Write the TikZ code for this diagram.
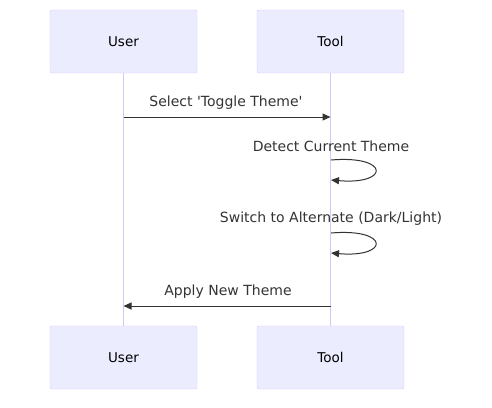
\documentclass[tikz,border=0pt]{standalone}
\usepackage{fontspec}
\setmainfont{DejaVu Sans}[Ligatures=TeXOff]
\usetikzlibrary{arrows.meta}
\definecolor{actfill}{HTML}{ECECFF}
\definecolor{actline}{HTML}{D6C8F4}
\definecolor{msg}{HTML}{333333}
\tikzset{
  actor/.style={draw=actline, fill=actfill, rounded corners=2pt, minimum width=147pt, minimum height=63pt, font=\fontsize{13.5}{15}\selectfont, inner sep=0pt},
  life/.style={draw=actline, line width=1.5pt},
  msgline/.style={draw=msg, line width=1pt, -{Triangle[length=8pt,width=7pt]}},
  msglabel/.style={font=\fontsize{14}{16}\selectfont, text=msg, inner sep=0pt}
}
\begin{document}
\begin{tikzpicture}[x=1pt,y=-1pt]
\useasboundingbox (0,0) rectangle (492,407);
\node[actor] (ut) at (123.5,41.5) {User};
\node[actor] (tt) at (330.5,41.5) {Tool};
\node[actor] (ub) at (123.5,357.5) {User};
\node[actor] (tb) at (330.5,357.5) {Tool};
\draw[life] (ut.south) -- (ub.north);
\draw[life] (tt.south) -- (tb.north);
\coordinate (a1s) at (123.5,117);
\coordinate (a1e) at (330.5,117);
\draw[msgline] (a1s) -- (a1e);
\node[msglabel] (l1) at (226,103) {Select 'Toggle Theme'};
\coordinate (s1a) at (331,160);
\coordinate (s1b) at (331,180);
\draw[msgline] (s1a) .. controls (390,155) and (390,185) .. (s1b);
\node[msglabel] (l2) at (331,146) {Detect Current Theme};
\coordinate (s2a) at (331,233);
\coordinate (s2b) at (331,253);
\draw[msgline] (s2a) .. controls (390,228) and (390,258) .. (s2b);
\node[msglabel] (l3) at (331,219) {Switch to Alternate (Dark/Light)};
\coordinate (a4s) at (330.5,306);
\coordinate (a4e) at (123.5,306);
\draw[msgline] (a4s) -- (a4e);
\node[msglabel] (l4) at (228,292) {Apply New Theme};
\end{tikzpicture}
\end{document}
